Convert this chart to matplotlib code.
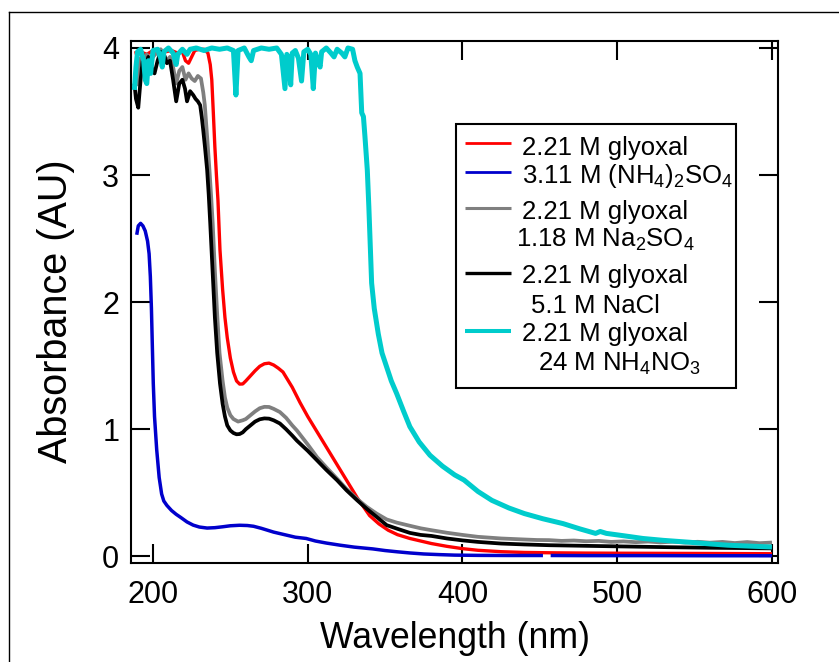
import matplotlib
matplotlib.use("Agg")
import matplotlib.pyplot as plt
import matplotlib.transforms as mtransforms
from matplotlib.lines import Line2D
from matplotlib.patches import Rectangle

plt.rcParams['font.family'] = ['Liberation Sans', 'DejaVu Sans']
plt.rcParams['mathtext.fontset'] = 'custom'
plt.rcParams['mathtext.rm'] = 'Liberation Sans'
plt.rcParams['mathtext.default'] = 'regular'

# ---- spectra: wavelength (nm) and absorbance (AU) ----
wl_red = [188, 192, 196, 200, 204, 208, 212, 216, 219, 221, 223, 225, 227, 230, 233,
          235.5, 237, 238, 239, 240, 241, 242, 243.3, 245, 246.5, 248, 250, 252, 254,
          256, 258, 260, 263, 266, 269, 272, 275, 278, 281, 284, 287, 290, 295, 300,
          306, 312, 319, 325, 332, 340, 346, 352, 358, 366, 373, 380, 390, 400, 410,
          425, 440, 460, 480, 500, 530, 560, 600]
abs_red = [3.96, 3.97, 3.95, 3.98, 3.97, 3.97, 3.98, 3.96, 3.97, 3.90, 3.88, 3.93, 3.98,
           3.99, 3.99, 3.96, 3.87, 3.75, 3.49, 3.22, 3.00, 2.80, 2.41, 2.10, 1.88, 1.72,
           1.56, 1.45, 1.38, 1.355, 1.356, 1.38, 1.42, 1.46, 1.495, 1.515, 1.52, 1.505,
           1.48, 1.45, 1.39, 1.33, 1.21, 1.10, 0.98, 0.86, 0.72, 0.60, 0.46, 0.32, 0.255,
           0.205, 0.17, 0.14, 0.12, 0.10, 0.078, 0.06, 0.047, 0.036, 0.03, 0.027, 0.025,
           0.024, 0.023, 0.022, 0.02]

wl_blue = [189.5, 190.5, 192, 193.5, 195, 196.5, 197.5, 198.3, 199, 199.6, 200.2, 201,
           202.4, 204, 205.6, 207, 209, 212, 215, 218, 222, 226, 230, 235, 240, 245,
           250, 256, 261, 265, 270, 278, 285, 292, 299, 305, 312, 321, 330, 342, 350,
           358, 366, 375, 385, 395, 410, 430, 452, 454.5, 457, 480, 520, 560, 600]
abs_blue = [2.53, 2.60, 2.62, 2.60, 2.56, 2.48, 2.38, 2.20, 1.95, 1.65, 1.36, 1.10, 0.84,
            0.62, 0.49, 0.435, 0.40, 0.36, 0.33, 0.305, 0.27, 0.245, 0.23, 0.222, 0.225,
            0.232, 0.24, 0.244, 0.242, 0.236, 0.22, 0.19, 0.17, 0.15, 0.14, 0.12, 0.104,
            0.087, 0.072, 0.058, 0.045, 0.035, 0.026, 0.018, 0.013, 0.009, 0.007, 0.006,
            0.006, float('nan'), 0.006, 0.005, 0.005, 0.004, 0.004]

wl_gray = [189.5, 190.5, 192, 194, 196, 198, 200, 203, 205, 207, 209, 211, 213, 215,
           217, 219, 221, 223, 225, 227, 229, 231, 232.5, 233.5, 235, 236.5, 237.5,
           238.6, 240, 241.6, 243, 245, 246.5, 248, 250, 252, 255, 258, 260, 263, 266,
           269, 272, 275, 278, 282, 286, 290, 293, 300, 306, 312, 319, 325, 332, 338,
           344.5, 351, 357.5, 366, 373, 380, 390, 400, 410, 425, 440, 448, 456, 464,
           472, 480, 488, 496, 504, 512, 520, 528, 536, 544, 552, 560, 568, 576, 584,
           592, 600]
abs_gray = [3.70, 3.85, 3.92, 3.88, 3.95, 3.90, 3.93, 3.97, 3.99, 3.95, 3.90, 3.93, 3.85,
            3.72, 3.82, 3.85, 3.75, 3.80, 3.76, 3.74, 3.78, 3.76, 3.65, 3.55, 3.30, 3.04,
            2.85, 2.62, 2.25, 1.88, 1.60, 1.38, 1.25, 1.17, 1.11, 1.08, 1.06, 1.07, 1.08,
            1.11, 1.14, 1.165, 1.176, 1.175, 1.16, 1.135, 1.09, 1.03, 0.99, 0.88, 0.78,
            0.70, 0.61, 0.53, 0.45, 0.39, 0.336, 0.29, 0.265, 0.24, 0.22, 0.205, 0.185,
            0.168, 0.153, 0.14, 0.132, 0.128, 0.127, 0.121, 0.124, 0.118, 0.121, 0.113,
            0.117, 0.111, 0.116, 0.109, 0.115, 0.108, 0.114, 0.107, 0.113, 0.104, 0.112,
            0.103, 0.108]

wl_black = [188, 189, 190.5, 192, 193.5, 195, 197, 199, 201, 203, 205, 207, 209, 211,
            213, 215, 217, 219, 220.7, 222, 224, 226, 227.5, 229, 230.5, 231.5, 232.5,
            233.6, 235, 236, 237, 238.5, 240, 241.5, 243.3, 245, 246.5, 248, 250, 252,
            254, 256, 258, 260, 263, 266, 269, 272, 275, 278, 282, 286, 290, 293, 300,
            306, 312, 319, 325, 332, 338, 344.5, 351, 357.5, 366, 373, 380, 390, 400,
            410, 425, 440, 456, 480, 500, 530, 560, 600]
abs_black = [3.72, 3.60, 3.53, 3.75, 3.92, 3.85, 3.93, 3.85, 3.80, 3.90, 3.97, 3.95, 3.88,
             3.90, 3.75, 3.58, 3.72, 3.75, 3.68, 3.58, 3.66, 3.63, 3.60, 3.58, 3.55, 3.46,
             3.35, 3.22, 3.04, 2.85, 2.62, 2.25, 1.88, 1.60, 1.36, 1.20, 1.10, 1.03, 0.99,
             0.97, 0.96, 0.962, 0.975, 1.00, 1.03, 1.06, 1.078, 1.085, 1.083, 1.07, 1.045,
             1.00, 0.95, 0.91, 0.83, 0.755, 0.68, 0.598, 0.52, 0.44, 0.375, 0.31, 0.245,
             0.218, 0.184, 0.168, 0.16, 0.14, 0.125, 0.113, 0.10, 0.093, 0.087, 0.082,
             0.078, 0.072, 0.067, 0.062]

wl_cyan = [188, 189, 190, 192, 194, 195, 196, 197, 198.5, 200, 203, 205, 206, 207, 210,
           213, 215, 216, 219, 222, 224, 228, 233, 238, 243, 248, 252, 253.6, 255, 259,
           262, 263.5, 265, 270, 275, 280, 283, 285.3, 286.5, 288, 289, 290, 292, 294,
           296, 297.5, 300, 302, 303.6, 305, 307, 308, 309, 312, 315, 317, 319, 322, 324,
           326, 329, 330.5, 332, 333.8, 334.9, 336, 337, 338.5, 339.5, 341.3, 343, 345.6,
           348, 351, 354, 357.5, 362, 366, 372, 379, 387, 395, 401, 410, 419, 430, 440,
           452, 465, 476, 486, 489, 493, 505, 516.6, 530, 547, 560, 571.6, 585, 600]
abs_cyan = [3.67, 3.85, 3.97, 3.99, 3.90, 3.75, 3.72, 3.90, 3.80, 3.98, 3.99, 3.92, 3.85,
            3.97, 4.00, 3.96, 3.87, 3.95, 3.99, 3.95, 3.99, 4.00, 3.98, 4.00, 3.99, 4.00,
            3.98, 3.63, 3.98, 4.00, 3.93, 3.90, 3.98, 4.00, 3.99, 4.00, 3.95, 3.68, 3.95,
            3.90, 3.71, 3.96, 3.98, 3.92, 3.74, 3.97, 3.99, 3.95, 3.68, 3.96, 3.88, 3.85,
            3.97, 4.00, 3.96, 3.93, 3.99, 3.96, 3.93, 4.00, 3.99, 3.90, 3.85, 3.80, 3.49,
            3.46, 3.30, 3.04, 2.75, 2.15, 1.95, 1.75, 1.60, 1.49, 1.38, 1.28, 1.14, 1.02,
            0.90, 0.795, 0.71, 0.64, 0.60, 0.51, 0.44, 0.38, 0.336, 0.295, 0.257, 0.215,
            0.18, 0.195, 0.18, 0.16, 0.14, 0.125, 0.11, 0.097, 0.087, 0.08, 0.073]

series = [
    (wl_red, abs_red, '#ff0000', 2.4),
    (wl_blue, abs_blue, '#0000cc', 2.5),
    (wl_gray, abs_gray, '#7f7f7f', 2.7),
    (wl_black, abs_black, '#000000', 2.7),
    (wl_cyan, abs_cyan, '#00cccc', 3.6),
]

legend_labels = [
    ['2.21 M glyoxal'],
    ['3.11 M (NH$_4$)$_2$SO$_4$'],
    ['2.21 M glyoxal', '1.18 M Na$_2$SO$_4$'],
    ['2.21 M glyoxal', '5.1 M NaCl'],
    ['2.21 M glyoxal', '24 M NH$_4$NO$_3$'],
]

W, H = 839, 662
fig = plt.figure(figsize=(W / 100, H / 100), dpi=100)
# pixel coordinates measured from the top-left corner of the figure
px = mtransforms.Affine2D().scale(1 / W, -1 / H).translate(0, 1) + fig.transFigure

ax = fig.add_axes([131 / W, 1 - 563 / H, (778 - 131) / W, (563 - 41) / H])
for wl, ab, color, lw in series:
    ax.plot(wl, ab, color=color, lw=lw, solid_joinstyle='round', solid_capstyle='butt')

ax.set_xlim(185.8, 603.9)
ax.set_ylim(-0.053, 4.055)
ax.set_xticks([200, 300, 400, 500, 600])
ax.set_yticks([0, 1, 2, 3, 4])
for s in ax.spines.values():
    s.set_linewidth(1.5)
ax.tick_params(which='major', direction='in', length=13.5, width=1.5,
               top=True, right=True, labelsize=22)
ax.tick_params(axis='x', pad=12)
ax.tick_params(axis='y', pad=8.5)

fig.text(455, 648, 'Wavelength (nm)', transform=px, ha='center', va='baseline',
         fontsize=25.7)
fig.text(67, 311, 'Absorbance (AU)', transform=px, rotation=90,
         rotation_mode='anchor', ha='center', va='baseline', fontsize=28.5)

# legend box
fig.add_artist(Rectangle((456, 124), 280, 264, transform=px, facecolor='white',
                         edgecolor='black', lw=1.5, zorder=5))
handle_y = [143.3, 172.3, 208.3, 273.3, 331]
handle_lw = [2.0, 2.0, 2.2, 2.4, 2.9]
rows = [
    (155, 522), (183.3, 522), (219, 522), (246.7, 516),
    (283.3, 522), (312.7, 531), (341, 522), (370.7, 538),
]
row_iter = iter(rows)
for (wl, ab, color, lw), hy, hlw, labels in zip(series, handle_y, handle_lw, legend_labels):
    fig.add_artist(Line2D([465, 511], [hy, hy], transform=px, color=color, lw=hlw,
                          solid_capstyle='butt', zorder=6))
    for text in labels:
        by, tx = next(row_iter)
        fig.text(tx, by, text, transform=px, ha='left', va='baseline', fontsize=18.5,
                 zorder=6)

# outer frame
fig.add_artist(Line2D([9, W], [12, 12], transform=px, color='black', lw=1.0))
fig.add_artist(Line2D([9, 9], [12, H], transform=px, color='black', lw=1.0))

fig.savefig('out.png', dpi=100)
